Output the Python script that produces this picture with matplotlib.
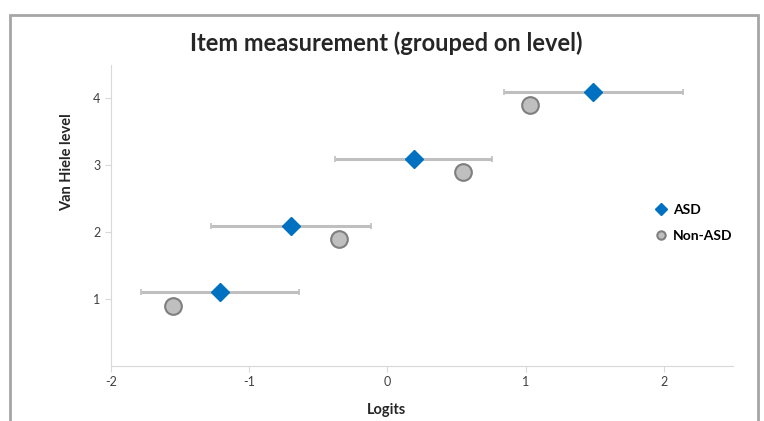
import matplotlib.pyplot as plt
from matplotlib.patches import Rectangle

# dados
niveis = [1, 2, 3, 4]
asd_logits = [-1.21, -0.70, 0.19, 1.49]
asd_y = [1.1, 2.1, 3.1, 4.1]
asd_erro = [0.57, 0.58, 0.57, 0.645]
non_asd_logits = [-1.55, -0.35, 0.55, 1.03]
non_asd_y = [0.9, 1.9, 2.9, 3.9]

fonte = ['Lato', 'DejaVu Sans']
plt.rcParams['axes.unicode_minus'] = False

fig = plt.figure(figsize=(7.64, 4.21), dpi=100)
ax = fig.add_axes([111/764, 55/421, (733-111)/764, (366-65)/421])

# moldura externa
fig.patches.append(Rectangle((10/764, -0.05), 748/764, 1.05 - 15/421, transform=fig.transFigure,
                             fill=False, edgecolor='#a6a6a6', linewidth=2))

ax.errorbar(asd_logits, asd_y, xerr=asd_erro, fmt='none', ecolor='#bfbfbf',
            elinewidth=2.2, capsize=2.5, capthick=1.2, zorder=2)
ax.plot(asd_logits, asd_y, 'D', color='#0070c0', markersize=9, label='ASD', zorder=4)
ax.plot(non_asd_logits, non_asd_y, 'o', markerfacecolor='#bfbfbf', markeredgecolor='#7f7f7f',
        markeredgewidth=1.5, markersize=12, linestyle='none', label='Non-ASD', zorder=3)

ax.set_xlim(-2, 2.5)
ax.set_ylim(0, 4.5)
ax.set_xticks([-2, -1, 0, 1, 2])
ax.set_yticks(niveis)
for s in ['top', 'right']:
    ax.spines[s].set_visible(False)
for s in ['left', 'bottom']:
    ax.spines[s].set_color('#d9d9d9')
ax.tick_params(colors='#d9d9d9', labelcolor='#404040', labelsize=9, length=4)
for t in ax.get_xticklabels() + ax.get_yticklabels():
    t.set_family(fonte)

fig.text(386/764, 1 - 43/421, 'Item measurement (grouped on level)', ha='center', va='center',
         fontsize=17, fontweight='bold', family=fonte, color='#262626')
fig.text(67/764, 1 - 162/421, 'Van Hiele level', rotation=90, ha='center', va='center',
         fontsize=10.5, fontweight='bold', family=fonte, color='#262626')
fig.text(387/764, 1 - 410/421, 'Logits', ha='center', va='center',
         fontsize=10.5, fontweight='bold', family=fonte, color='#262626')

leg = ax.legend(loc='center left', bbox_to_anchor=(640/764, 1 - 223/421), bbox_transform=fig.transFigure,
                frameon=False, handletextpad=0.3, labelspacing=1.0, handlelength=1.2,
                prop={'family': fonte, 'weight': 'bold', 'size': 10})
for h in leg.legend_handles:
    h.set_markersize(6)

fig.savefig('out.png', dpi=100)
